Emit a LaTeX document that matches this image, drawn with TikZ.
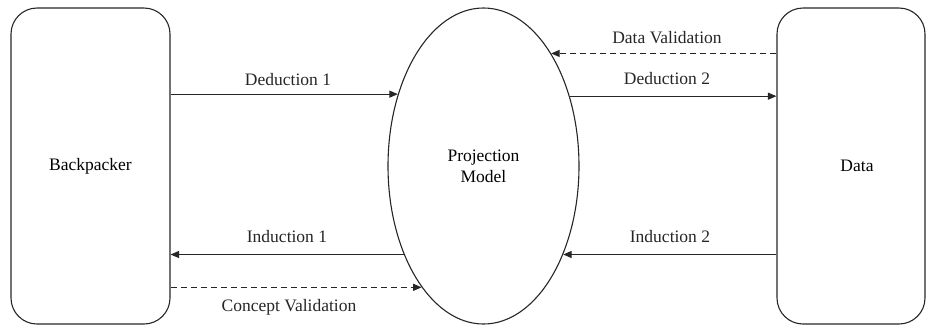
\documentclass[tikz,border=0pt]{standalone}
\usepackage{fontspec}
\setmainfont{Liberation Serif}
\usetikzlibrary{arrows.meta,shapes.geometric}
\begin{document}
\begin{tikzpicture}[x=1pt,y=-1pt,
  box/.style={draw=black!85,line width=1.1pt,rounded corners=26pt,minimum height=316pt,inner sep=0pt,font=\fontsize{17.5}{20}\selectfont},
  oval/.style={ellipse,draw=black!85,line width=1.1pt,minimum width=191pt,minimum height=316pt,inner sep=0pt,align=center,font=\fontsize{17.5}{21}\selectfont},
  conn/.style={draw=black!85,line width=1.1pt,-{Triangle[length=8.5pt,width=7pt]}},
  dconn/.style={conn,dash pattern=on 6pt off 4pt},
  lbl/.style={font=\fontsize{17.5}{20}\selectfont,text=black!85,inner sep=0pt}]
\useasboundingbox (0,0) rectangle (926,325);
\node[box,minimum width=159pt] (bp) at (90.5,166) {Backpacker};
\node[box,minimum width=148pt] (data) at (851,166) {\hspace*{12pt}Data};
\node[oval] (pm) at (483.5,166) {Projection\\Model};
% connectors
\draw[conn] (bp.east |- pm.140.7) -- (pm.140.7);
\draw[dconn] (data.west |- pm.59) -- (pm.59);
\draw[conn] (pm.39.3) -- (data.west |- pm.39.3);
\draw[conn] (pm.-132.5) -- (bp.east |- pm.-132.5);
\draw[dconn] (bp.east |- pm.-117.8) -- (pm.-117.8);
\draw[conn] (data.west |- pm.-48) -- (pm.-48);
% labels
\node[lbl] (l1) at (288,80) {Deduction 1};
\node[lbl] (l2) at (667,38) {Data Validation};
\node[lbl] (l3) at (667,79) {Deduction 2};
\node[lbl] (l4) at (287,237) {Induction 1};
\node[lbl] (l5) at (289,307) {Concept Validation};
\node[lbl] (l6) at (670,237) {Induction 2};
\end{tikzpicture}
\end{document}
